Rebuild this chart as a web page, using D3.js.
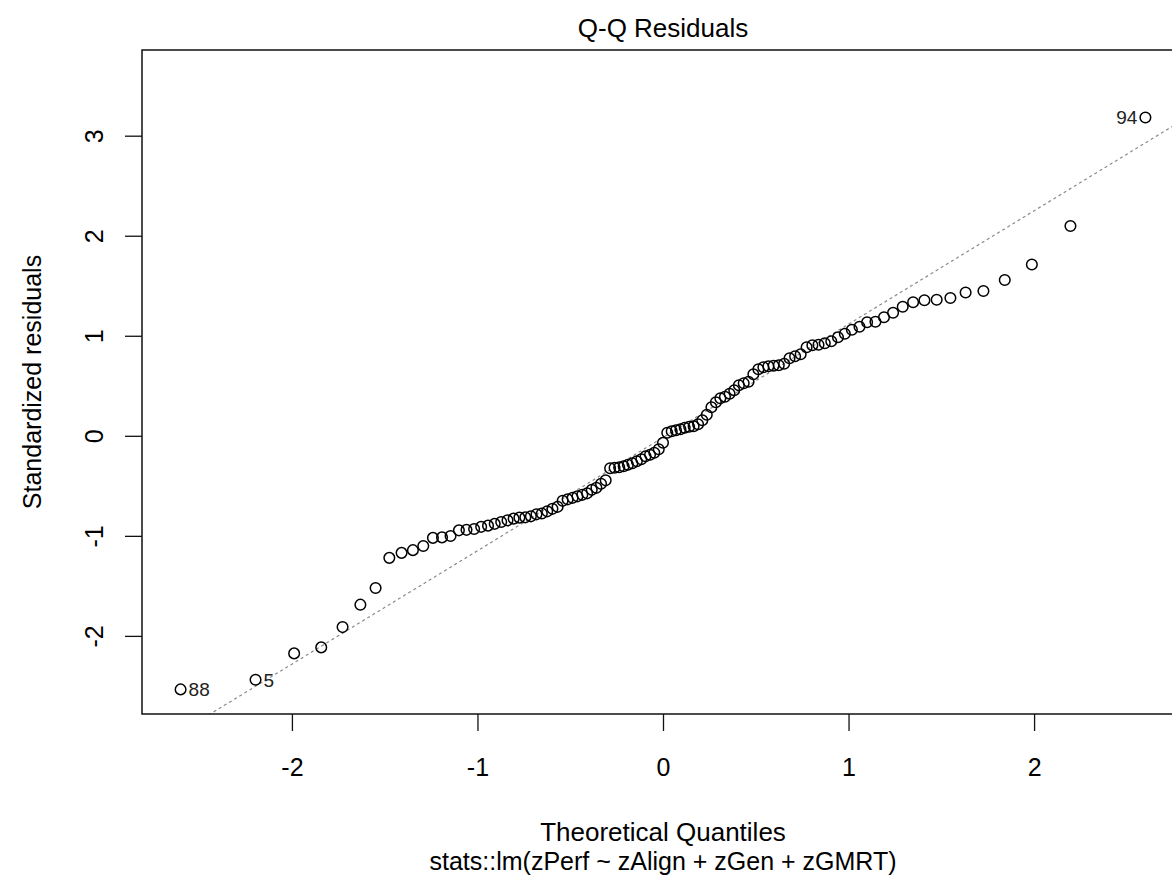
<!DOCTYPE html>
<meta charset="utf-8">
<script src="https://d3js.org/d3.v7.min.js"></script>
<style>
  body { margin: 0; background: #fff; }
  text { font-family: "Liberation Sans", Arial, sans-serif; fill: #000; }
</style>
<div id="my_dataviz"></div>
<script>

// theoretical normal quantiles for n = 107 (as drawn on the x axis)
var theoretical = [
  -2.600, -2.196, -1.988, -1.842, -1.727, -1.631, -1.549, -1.475, -1.409, -1.348,
  -1.292, -1.240, -1.191, -1.145, -1.100, -1.059, -1.018, -0.980, -0.943, -0.907,
  -0.872, -0.838, -0.805, -0.774, -0.742, -0.712, -0.682, -0.653, -0.624, -0.596,
  -0.568, -0.541, -0.514, -0.487, -0.461, -0.435, -0.409, -0.384, -0.359, -0.334,
  -0.309, -0.285, -0.261, -0.236, -0.212, -0.189, -0.165, -0.141, -0.117, -0.094,
  -0.070, -0.047, -0.023, 0.000, 0.023, 0.047, 0.070, 0.094, 0.117, 0.141,
  0.165, 0.189, 0.212, 0.236, 0.261, 0.285, 0.309, 0.334, 0.359, 0.384,
  0.409, 0.435, 0.461, 0.487, 0.514, 0.541, 0.568, 0.596, 0.624, 0.653,
  0.682, 0.712, 0.742, 0.774, 0.805, 0.838, 0.872, 0.907, 0.943, 0.980,
  1.018, 1.059, 1.100, 1.145, 1.191, 1.240, 1.292, 1.348, 1.409, 1.475,
  1.549, 1.631, 1.727, 1.842, 1.988, 2.196, 2.600
];

// sorted standardized residuals
var residuals = [
  -2.535, -2.438, -2.175, -2.115, -1.912, -1.688, -1.522, -1.220, -1.170, -1.143,
  -1.102, -1.020, -1.015, -1.002, -0.945, -0.940, -0.932, -0.910, -0.898, -0.880,
  -0.862, -0.845, -0.828, -0.818, -0.815, -0.805, -0.785, -0.776, -0.755, -0.730,
  -0.710, -0.650, -0.635, -0.620, -0.605, -0.590, -0.575, -0.540, -0.520, -0.480,
  -0.445, -0.325, -0.320, -0.315, -0.305, -0.290, -0.275, -0.255, -0.235, -0.205,
  -0.190, -0.170, -0.135, -0.070, 0.030, 0.045, 0.055, 0.065, 0.080, 0.090,
  0.095, 0.115, 0.155, 0.210, 0.285, 0.335, 0.375, 0.390, 0.420, 0.455,
  0.505, 0.525, 0.540, 0.615, 0.665, 0.685, 0.695, 0.700, 0.705, 0.720,
  0.775, 0.795, 0.815, 0.885, 0.905, 0.910, 0.925, 0.945, 0.985, 1.020,
  1.060, 1.090, 1.135, 1.140, 1.185, 1.230, 1.290, 1.335, 1.355, 1.360,
  1.378, 1.432, 1.448, 1.558, 1.712, 2.098, 3.182
];

// observation numbers shown next to the extreme points
var pointLabels = [
  {index: 0, label: "88"},
  {index: 1, label: "5"},
  {index: 106, label: "94"}
];

var xTicks = [-2, -1, 0, 1, 2];
var yTicks = [-2, -1, 0, 1, 2, 3];

var W = 1172, H = 884;
var pLeft = 142, pTop = 50, pBottom = 714, pRight = 1184;

var svg = d3.select("#my_dataviz")
  .append("svg")
    .attr("width", W)
    .attr("height", H);

// R style ranges: 4% padding, extra 7.5% headroom on y for labels
var xr = d3.extent(theoretical);
var xpad = (xr[1] - xr[0]) * 0.04;
var x = d3.scaleLinear()
  .domain([xr[0] - xpad, xr[1] + xpad])
  .range([pLeft, pRight]);

var yr = d3.extent(residuals);
yr[1] = yr[1] + (yr[1] - yr[0]) * 0.075;
var ypad = (yr[1] - yr[0]) * 0.04;
var y = d3.scaleLinear()
  .domain([yr[0] - ypad, yr[1] + ypad])
  .range([pBottom, pTop]);

svg.append("clipPath")
    .attr("id", "plotclip")
  .append("rect")
    .attr("x", pLeft)
    .attr("y", pTop)
    .attr("width", pRight - pLeft)
    .attr("height", pBottom - pTop);

// qq line through the quartiles
var q1 = d3.quantile(residuals, 0.25), q3 = d3.quantile(residuals, 0.75);
var z1 = -0.6744898, z3 = 0.6744898;
var slope = (q3 - q1) / (z3 - z1);
var intercept = q1 - slope * z1;
var xd = x.domain();

svg.append("line")
    .attr("clip-path", "url(#plotclip)")
    .attr("x1", x(xd[0]))
    .attr("y1", y(intercept + slope * xd[0]))
    .attr("x2", x(xd[1]))
    .attr("y2", y(intercept + slope * xd[1]))
    .attr("stroke", "#8a8a8a")
    .attr("stroke-width", 1.2)
    .attr("stroke-dasharray", "3,3");

// points
svg.selectAll("mycircle")
  .data(residuals)
  .enter()
  .append("circle")
    .attr("cx", function(d, i) { return x(theoretical[i]); })
    .attr("cy", function(d) { return y(d); })
    .attr("r", 5.3)
    .style("fill", "none")
    .attr("stroke", "black")
    .attr("stroke-width", 1.5);

// labels for extreme observations
svg.selectAll("ptlabel")
  .data(pointLabels)
  .enter()
  .append("text")
    .attr("x", function(d) {
      var px = x(theoretical[d.index]);
      return theoretical[d.index] < 0 ? px + 8 : px - 8;
    })
    .attr("y", function(d) { return y(residuals[d.index]); })
    .attr("dy", "0.36em")
    .style("text-anchor", function(d) { return theoretical[d.index] < 0 ? "start" : "end"; })
    .style("font-size", "19px")
    .style("fill", "#222")
    .text(function(d) { return d.label; });

// box
svg.append("rect")
    .attr("x", pLeft)
    .attr("y", pTop)
    .attr("width", pRight - pLeft)
    .attr("height", pBottom - pTop)
    .attr("fill", "none")
    .attr("stroke", "#111")
    .attr("stroke-width", 1.5);

// R prints a plain hyphen for negatives
var fmt = function(d) { return String(d); };

// X axis
var gx = svg.append("g")
  .attr("transform", "translate(0," + pBottom + ")")
  .call(d3.axisBottom(x).tickValues(xTicks).tickSize(17).tickFormat(fmt));
gx.select(".domain").remove();
gx.selectAll("line").attr("stroke", "#111").attr("stroke-width", 1.3);
gx.selectAll("text")
    .attr("y", 62)
    .attr("dy", 0)
    .style("font-size", "25px");

// Y axis
var gy = svg.append("g")
  .attr("transform", "translate(" + pLeft + ",0)")
  .call(d3.axisLeft(y).tickValues(yTicks).tickSize(17).tickFormat(fmt));
gy.select(".domain").remove();
gy.selectAll("line").attr("stroke", "#111").attr("stroke-width", 1.3);
gy.selectAll("text")
    .attr("x", 0)
    .attr("y", -39)
    .attr("dy", 0)
    .attr("transform", "rotate(-90)")
    .style("text-anchor", "middle")
    .style("font-size", "25px");

// titles
var cx = (pLeft + pRight) / 2;
svg.append("text")
    .attr("x", cx)
    .attr("y", 37)
    .style("text-anchor", "middle")
    .style("font-size", "26px")
    .text("Q-Q Residuals");

svg.append("text")
    .attr("x", cx)
    .attr("y", 841)
    .style("text-anchor", "middle")
    .style("font-size", "26px")
    .text("Theoretical Quantiles");

svg.append("text")
    .attr("x", cx)
    .attr("y", 870)
    .style("text-anchor", "middle")
    .style("font-size", "25px")
    .text("stats::lm(zPerf ~ zAlign + zGen + zGMRT)");

svg.append("text")
    .attr("transform", "translate(41," + ((pTop + pBottom) / 2) + ") rotate(-90)")
    .style("text-anchor", "middle")
    .style("font-size", "25px")
    .text("Standardized residuals");

</script>
